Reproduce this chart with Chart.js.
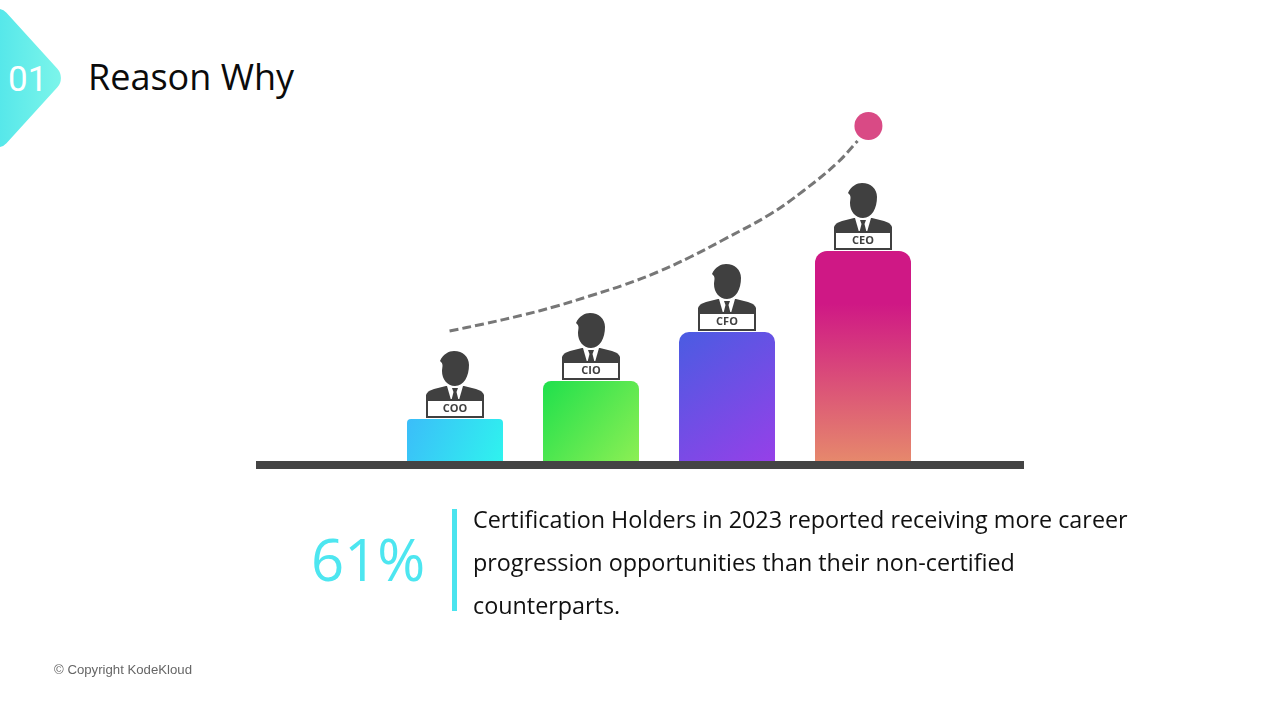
<!DOCTYPE html>
<html>
<head>
<meta charset="utf-8">
<title>Reason Why</title>
<script src="https://cdn.jsdelivr.net/npm/chart.js@4"></script>
<style>
  html, body { margin: 0; padding: 0; background: #fff; }
  body { position: relative; width: 1280px; height: 720px; overflow: hidden; font-family: "Open Sans", sans-serif; }
  canvas { position: absolute; left: 0; top: 0; }
  .badge {
    position: absolute; left: -50px; top: 30px; width: 96px; height: 96px;
    border-radius: 12px; transform: scaleY(1.1) rotate(45deg);
    background: linear-gradient(45deg, #2bd8ea, #7ff6ea);
  }
  .num { position: absolute; left: 8px; top: 59px; font: 400 35px Roboto, sans-serif; color: #fff; line-height: 42px; }
  .title { position: absolute; left: 88px; top: 53px; font-size: 36px; line-height: 48px; color: #0b0b0b; }
  .pct { position: absolute; left: 311px; top: 519px; font-size: 58px; font-weight: 400; line-height: 80px; color: #4de6f0; }
  .rule { position: absolute; left: 452px; top: 509px; width: 5px; height: 102px; background: #4ae4ee; }
  .body-text { position: absolute; left: 473px; top: 498px; font-size: 23.35px; line-height: 43px; color: #111; white-space: nowrap; }
  .baseline { position: absolute; left: 256px; top: 461px; width: 768px; height: 8px; background: #444; }
  .copy { position: absolute; left: 54px; top: 662px; font: 13.2px "Liberation Sans", sans-serif; color: #666; }
</style>
</head>
<body>
<div class="badge"></div>
<div class="num">01</div>
<div class="title">Reason Why</div>
<canvas id="chart" width="1280" height="720"></canvas>
<div class="baseline"></div>
<div class="pct">61%</div>
<div class="rule"></div>
<div class="body-text">Certification Holders in 2023 reported receiving more career<br>progression opportunities than their non-certified<br>counterparts.</div>
<div class="copy">© Copyright KodeKloud</div>

<script>
const categories = ['COO', 'CIO', 'CFO', 'CEO'];
const barValues = [42, 80, 129, 210];
const barRadius = [4, 8, 10, 12];
// gradient stops per bar: start colour, end colour
const gradientStart = ['#3bbdf9', '#1fe04c', '#4a5ce2', '#cf1885'];
const gradientEnd = ['#2ff3ee', '#8cef54', '#9640e8', '#e6886c'];

// growth curve, x is in bar positions (0 = COO, 3 = CEO)
const curveX = [-0.04, 0.21, 0.5, 0.75, 0.99, 1.24, 1.49, 1.73, 1.97, 2.32, 2.56, 2.81, 2.96];
const curveY = [130, 137, 146, 155, 165, 176, 189, 204, 221, 247, 270, 298, 320];
const dotX = [3.04];
const dotY = [335];

const DARK = '#404040';

function barGradient(context) {
  const i = context.dataIndex;
  const chart = context.chart;
  if (!chart.chartArea || i === undefined) return gradientStart[i || 0];
  const ctx = chart.ctx;
  const x = chart.scales.x.getPixelForValue(i);
  const top = chart.scales.y.getPixelForValue(barValues[i]);
  const bottom = chart.scales.y.getPixelForValue(0);
  let g;
  if (i === 3) {
    // CEO bar fades straight down, the others run corner to corner
    g = ctx.createLinearGradient(0, top, 0, bottom);
    g.addColorStop(0, gradientStart[i]);
    g.addColorStop(0.25, gradientStart[i]);
    g.addColorStop(1, gradientEnd[i]);
  } else {
    g = ctx.createLinearGradient(x - 48, top, x + 48, bottom);
    g.addColorStop(0, gradientStart[i]);
    g.addColorStop(1, gradientEnd[i]);
  }
  return g;
}

function drawPerson(ctx, cx, top, label) {
  ctx.save();
  ctx.translate(cx, top);
  ctx.fillStyle = DARK;

  // head and hair
  ctx.beginPath();
  ctx.moveTo(-15, -58);
  ctx.bezierCurveTo(-12, -65, -6, -68, -1, -68);
  ctx.bezierCurveTo(8, -68, 14, -62, 14, -54);
  ctx.bezierCurveTo(14, -43, 9, -33, 0, -33);
  ctx.bezierCurveTo(-8, -33, -13, -40, -13, -48);
  ctx.bezierCurveTo(-13, -52, -11, -55, -15, -58);
  ctx.fill();

  // shoulders
  ctx.beginPath();
  ctx.moveTo(-29, -18);
  ctx.lineTo(-29, -24);
  ctx.quadraticCurveTo(-28, -28, -21, -30);
  ctx.lineTo(-9, -33);
  ctx.lineTo(9, -33);
  ctx.lineTo(21, -30);
  ctx.quadraticCurveTo(28, -28, 29, -24);
  ctx.lineTo(29, -18);
  ctx.closePath();
  ctx.fill();

  // collar and tie
  ctx.fillStyle = '#fff';
  ctx.beginPath();
  ctx.moveTo(-8, -33);
  ctx.lineTo(8, -33);
  ctx.lineTo(4, -19);
  ctx.lineTo(-4, -19);
  ctx.closePath();
  ctx.fill();
  ctx.fillStyle = DARK;
  ctx.beginPath();
  ctx.moveTo(-3, -31);
  ctx.lineTo(3, -31);
  ctx.lineTo(1.5, -27);
  ctx.lineTo(3.5, -19);
  ctx.lineTo(-3.5, -19);
  ctx.lineTo(-1.5, -27);
  ctx.closePath();
  ctx.fill();

  // name plate
  ctx.fillStyle = '#fff';
  ctx.strokeStyle = DARK;
  ctx.lineWidth = 2;
  ctx.fillRect(-28, -19, 56, 17);
  ctx.strokeRect(-28, -19, 56, 17);
  ctx.fillStyle = DARK;
  ctx.font = 'bold 11px "Open Sans", sans-serif';
  ctx.textAlign = 'center';
  ctx.textBaseline = 'middle';
  ctx.fillText(label, 0, -10);
  ctx.restore();
}

const personPlugin = {
  id: 'persons',
  afterDatasetsDraw(chart) {
    chart.getDatasetMeta(0).data.forEach((bar, i) => {
      drawPerson(chart.ctx, bar.x, bar.y, categories[i]);
    });
  },
};

new Chart(document.getElementById('chart'), {
  data: {
    labels: categories,
    datasets: [
      {
        type: 'bar',
        data: barValues,
        backgroundColor: barGradient,
        borderRadius: (c) => ({ topLeft: barRadius[c.dataIndex], topRight: barRadius[c.dataIndex], bottomLeft: 0, bottomRight: 0 }),
        borderSkipped: false,
        grouped: false,
        categoryPercentage: 1,
        barPercentage: 96 / 136,
      },
      {
        type: 'line',
        xAxisID: 'xCurve',
        data: curveX.map((x, i) => ({ x, y: curveY[i] })),
        borderColor: '#777',
        borderWidth: 3,
        borderDash: [9, 4],
        pointRadius: 0,
        tension: 0.4,
        clip: false,
      },
      {
        type: 'line',
        xAxisID: 'xCurve',
        data: dotX.map((x, i) => ({ x, y: dotY[i] })),
        showLine: false,
        pointRadius: 14,
        pointBackgroundColor: '#d94a85',
        pointBorderWidth: 0,
        clip: false,
      },
    ],
  },
  options: {
    responsive: false,
    animation: false,
    layout: { padding: { left: 387, right: 349, top: 111, bottom: 259 } },
    plugins: { legend: { display: false }, tooltip: { enabled: false } },
    scales: {
      x: { display: false },
      xCurve: { type: 'linear', display: false, min: -0.5, max: 3.5 },
      y: { display: false, min: 0, max: 350 },
    },
  },
  plugins: [personPlugin],
});
</script>
</body>
</html>
